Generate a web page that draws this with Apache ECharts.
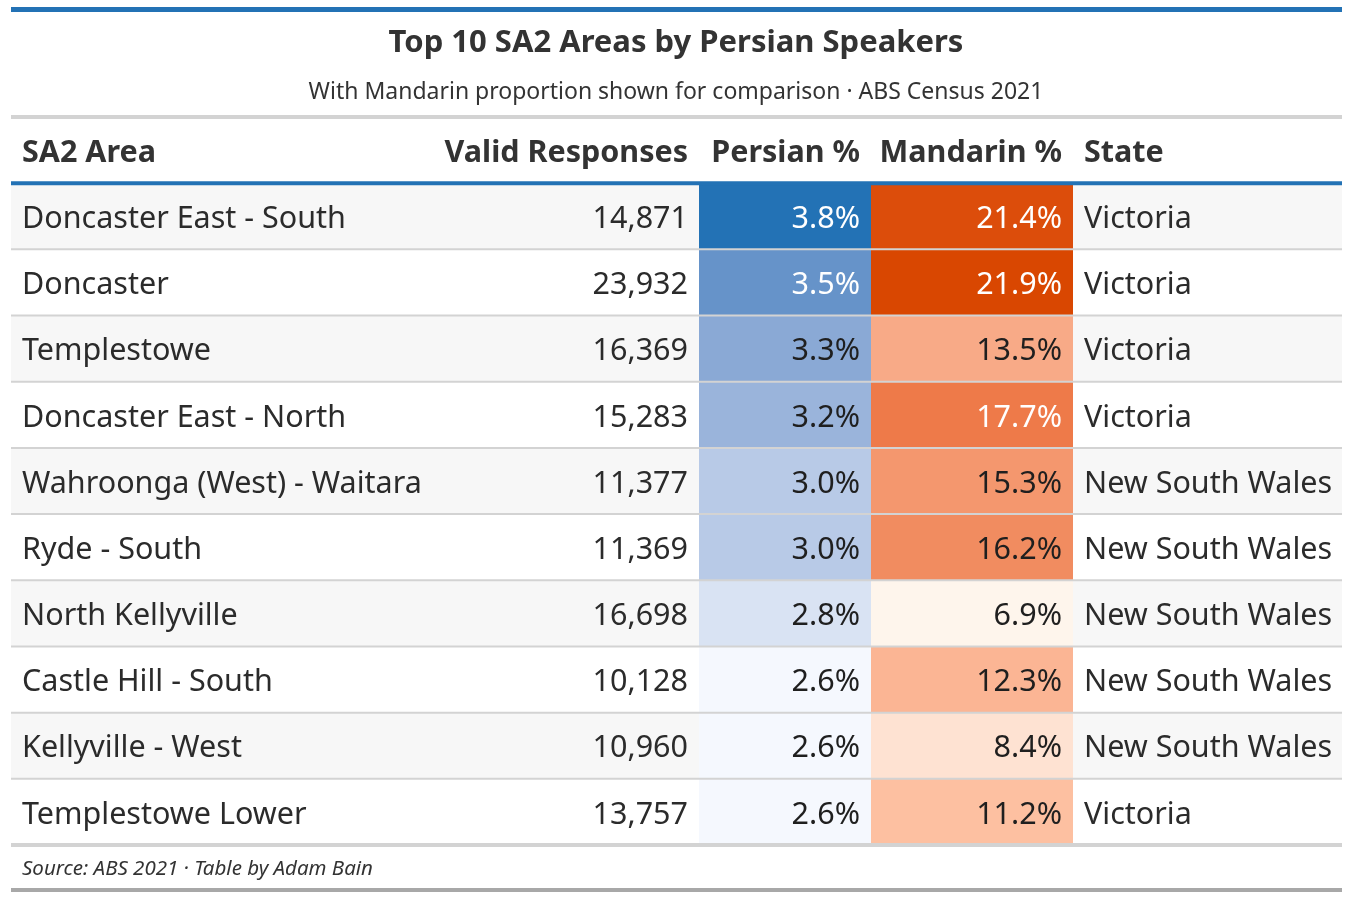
<!DOCTYPE html>
<html><head><meta charset="utf-8">
<script src="https://cdn.jsdelivr.net/npm/echarts@6/dist/echarts.min.js"></script>
<style>html,body{margin:0;padding:0;background:#fff}#c{width:1352px;height:900px}</style>
</head><body><div id="c"></div>
<script>
// ---------- data ----------
const areas = ['Doncaster East - South','Doncaster','Templestowe','Doncaster East - North','Wahroonga (West) - Waitara','Ryde - South','North Kellyville','Castle Hill - South','Kellyville - West','Templestowe Lower'];
const responses = [14871, 23932, 16369, 15283, 11377, 11369, 16698, 10128, 10960, 13757];
const persianPct = [3.8, 3.5, 3.3, 3.2, 3.0, 3.0, 2.8, 2.6, 2.6, 2.6];
const mandarinPct = [21.4, 21.9, 13.5, 17.7, 15.3, 16.2, 6.9, 12.3, 8.4, 11.2];
const states = ['Victoria','Victoria','Victoria','Victoria','New South Wales','New South Wales','New South Wales','New South Wales','New South Wales','Victoria'];
const columnHeaders = ['SA2 Area','Valid Responses','Persian %','Mandarin %','State'];
const titleText = 'Top 10 SA2 Areas by Persian Speakers';
const subtitleText = 'With Mandarin proportion shown for comparison \u00b7 ABS Census 2021';
const sourceText = 'Source: ABS 2021 \u00b7 Table by Adam Bain';

// ---------- layout / style ----------
const FONT = "'Noto Sans', sans-serif";
const TABLE_W = 1331;
const COL_EDGES = [0, 419, 688, 860, 1062, 1331];
const COL_ALIGN = ['left', 'right', 'right', 'right', 'left'];
const PAD = 11;
const TEXT = '#2b2b2b';
const BODY_SIZE = 30.5;
const HEAD_SIZE = 30.5;
const TEXT_DY = 3;
const BLUE_STOPS = ['#f5f8fe','#d9e3f3','#b8cae7','#9ab4db','#7a9ecf','#5288c2','#2372b5'];
const ORANGE_STOPS = ['#fef5ec','#fee2d2','#fdd0b8','#fdbd9e','#fab08e','#f6a27c','#f29065','#ef7e4e','#e86c37','#e25a20','#d94701'];

const yCats = ['header'].concat(areas);

function colBox(api, c0, c1, r) {
  const h = api.size([0, 1])[1];
  const p0 = api.coord([COL_EDGES[c0], r]);
  const p1 = api.coord([COL_EDGES[c1], r]);
  return { x: p0[0], y: p0[1] - h / 2, width: p1[0] - p0[0], height: h, cy: p0[1] };
}
function textX(api, c, r) {
  const e = COL_ALIGN[c] === 'left' ? COL_EDGES[c] + PAD : COL_EDGES[c + 1] - PAD;
  return api.coord([e, r])[0];
}
function cellText(api, c, r, str, color, bold, size) {
  const b = colBox(api, c, c + 1, r);
  return {
    type: 'text',
    style: {
      x: textX(api, c, r), y: b.cy + TEXT_DY, text: str,
      align: COL_ALIGN[c], verticalAlign: 'middle',
      fill: color, fontFamily: FONT, fontSize: size || BODY_SIZE,
      fontWeight: bold ? 'bold' : 'normal'
    }
  };
}
function contrastText(fill) {
  const c = echarts.color.parse(fill);
  const lin = v => { v /= 255; return v <= 0.03928 ? v / 12.92 : Math.pow((v + 0.055) / 1.055, 2.4); };
  const L = 0.2126 * lin(c[0]) + 0.7152 * lin(c[1]) + 0.0722 * lin(c[2]);
  return L < 0.35 ? '#ffffff' : '#1f1f1f';
}
function colorCell(colIndex) {
  return function (params, api) {
    const r = api.value(1);
    const fill = api.visual('color');
    const b = colBox(api, colIndex, colIndex + 1, r);
    const v = api.value(0);
    return {
      type: 'group',
      children: [
        { type: 'rect', shape: { x: b.x, y: b.y, width: b.width, height: b.height }, style: { fill: fill } },
        cellText(api, colIndex, r, v.toFixed(1) + '%', contrastText(fill), false)
      ]
    };
  };
}

const chart = echarts.init(document.getElementById('c'), null, { renderer: 'canvas' });
chart.setOption({
  animation: false,
  backgroundColor: '#ffffff',
  title: [
    { text: titleText, left: 'center', top: 26, padding: 0,
      textStyle: { fontFamily: FONT, fontSize: 31, fontWeight: 'bold', color: '#333333', lineHeight: 34 } },
    { text: subtitleText, left: 'center', top: 79, padding: 0,
      textStyle: { fontFamily: FONT, fontSize: 23, fontWeight: 'normal', color: '#333333', lineHeight: 26 } }
  ],
  grid: { left: 11, right: 10, top: 117, bottom: 55 },
  xAxis: { type: 'value', min: 0, max: TABLE_W, show: false },
  yAxis: { type: 'category', data: yCats, inverse: true, show: false },
  visualMap: [
    { type: 'continuous', show: false, seriesIndex: 1, dimension: 0,
      min: Math.min.apply(null, persianPct), max: Math.max.apply(null, persianPct),
      inRange: { color: BLUE_STOPS } },
    { type: 'continuous', show: false, seriesIndex: 2, dimension: 0,
      min: Math.min.apply(null, mandarinPct), max: Math.max.apply(null, mandarinPct),
      inRange: { color: ORANGE_STOPS } }
  ],
  series: [
    { // row backgrounds + plain text cells
      type: 'custom', name: 'rows', z: 1,
      data: areas.map((a, i) => [0, i + 1]),
      renderItem: function (params, api) {
        const i = params.dataIndex;
        const r = api.value(1);
        const b = colBox(api, 0, 5, r);
        return {
          type: 'group',
          children: [
            { type: 'rect', shape: { x: b.x, y: b.y, width: b.width, height: b.height },
              style: { fill: i % 2 === 0 ? '#f7f7f7' : '#ffffff' } },
            cellText(api, 0, r, areas[i], TEXT, false),
            cellText(api, 1, r, responses[i].toLocaleString('en-US'), TEXT, false),
            cellText(api, 4, r, states[i], TEXT, false)
          ]
        };
      }
    },
    { type: 'custom', name: 'Persian %', z: 2,
      data: persianPct.map((v, i) => [v, i + 1]),
      renderItem: colorCell(2) },
    { type: 'custom', name: 'Mandarin %', z: 2,
      data: mandarinPct.map((v, i) => [v, i + 1]),
      renderItem: colorCell(3) },
    { // horizontal rules between rows
      type: 'custom', name: 'rules', z: 3,
      data: areas.map((a, i) => [0, i + 1]),
      renderItem: function (params, api) {
        const i = params.dataIndex;
        const r = api.value(1);
        const b = colBox(api, 0, 5, r);
        const last = i === areas.length - 1;
        const t = last ? 4 : 2;
        return { type: 'rect', shape: { x: b.x, y: b.y + b.height - t / 2, width: b.width, height: t },
          style: { fill: '#d3d3d3' } };
      }
    },
    { // column headers
      type: 'custom', name: 'header', z: 3,
      data: columnHeaders.map((h, c) => [c, 0]),
      renderItem: function (params, api) {
        const c = params.dataIndex;
        const r = api.value(1);
        const children = [cellText(api, c, r, columnHeaders[c], '#333333', true, HEAD_SIZE)];
        if (c === 0) {
          const b = colBox(api, 0, 5, r);
          children.push({ type: 'rect', shape: { x: b.x, y: b.y - 2, width: b.width, height: 4 }, style: { fill: '#d3d3d3' } });
          children.push({ type: 'rect', shape: { x: b.x, y: b.y + b.height - 2, width: b.width, height: 4 }, style: { fill: '#2372b5' } });
        }
        return { type: 'group', children: children };
      }
    }
  ],
  graphic: [
    { type: 'rect', left: 11, top: 7, shape: { width: TABLE_W, height: 5 }, style: { fill: '#2372b5' } },
    { type: 'text', left: 22, top: 859, style: { text: sourceText, fontFamily: FONT, fontSize: 20.5, fontStyle: 'italic', fill: '#333333' } },
    { type: 'rect', left: 11, top: 888, shape: { width: TABLE_W, height: 4 }, style: { fill: '#a8a8a8' } }
  ]
});
</script></body></html>
